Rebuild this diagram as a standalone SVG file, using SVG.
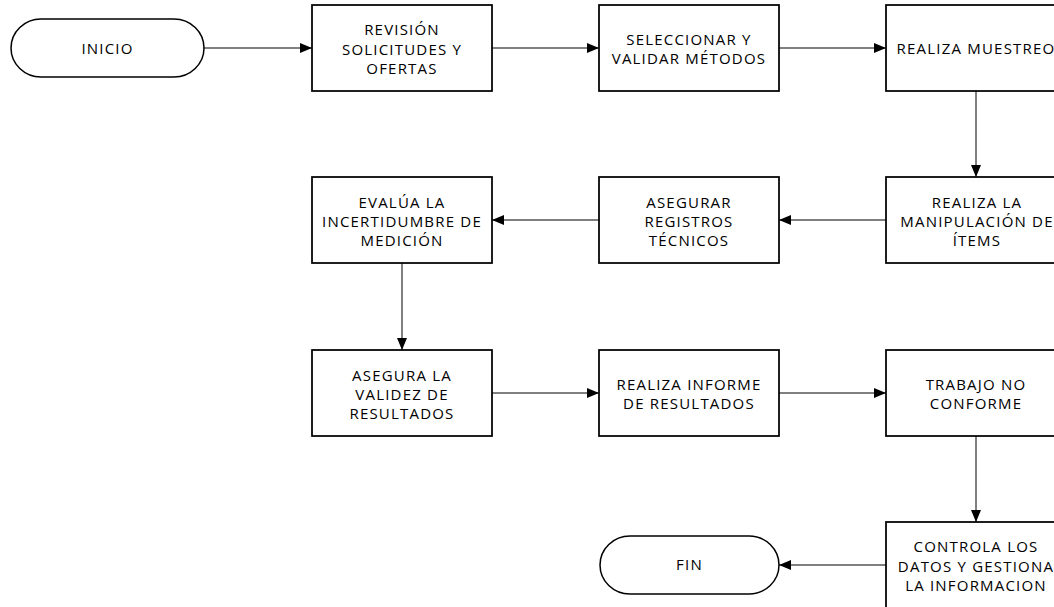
<svg xmlns="http://www.w3.org/2000/svg" width="1054" height="607" viewBox="0 0 1054 607">
  <defs>
    <marker id="arrow" markerUnits="userSpaceOnUse" markerWidth="12" markerHeight="10" refX="12" refY="5" orient="auto">
      <path d="M0,0 L12,5 L0,10 Z" fill="#000"/>
    </marker>
    <style>
      .box { fill: #fff; stroke: #000; stroke-width: 1.75; }
      .term { fill: #fff; stroke: #000; stroke-width: 1.5; }
      .lbl { font-family: "Open Sans", "Liberation Sans", sans-serif; font-size: 15px; fill: #000; text-anchor: middle; letter-spacing: 1.2px; }
      .conn { fill: none; stroke: #000; stroke-width: 1; marker-end: url(#arrow); }
    </style>
  </defs>
  <rect width="1054" height="607" fill="#fff"/>

  <!-- connectors -->
  <g id="connectors">
    <line class="conn" x1="204" y1="48" x2="312" y2="48"/>
    <line class="conn" x1="492" y1="48" x2="599" y2="48"/>
    <line class="conn" x1="779" y1="48" x2="886" y2="48"/>
    <line class="conn" x1="976" y1="91" x2="976" y2="177"/>
    <line class="conn" x1="886" y1="220" x2="779" y2="220"/>
    <line class="conn" x1="599" y1="220" x2="492" y2="220"/>
    <line class="conn" x1="402" y1="263" x2="402" y2="350"/>
    <line class="conn" x1="492" y1="393" x2="599" y2="393"/>
    <line class="conn" x1="779" y1="393" x2="886" y2="393"/>
    <line class="conn" x1="976" y1="436" x2="976" y2="522"/>
    <line class="conn" x1="886" y1="565" x2="779" y2="565"/>
  </g>

  <!-- start -->
  <g id="inicio">
    <rect class="term" x="11" y="19" width="193" height="58" rx="30" ry="29"/>
    <text class="lbl" x="107.5" y="54">INICIO</text>
  </g>

  <!-- row 1 -->
  <g id="revision">
    <rect class="box" x="312" y="5" width="180" height="86"/>
    <text class="lbl" x="402" y="35">REVISIÓN</text>
    <text class="lbl" x="402" y="54.5">SOLICITUDES Y</text>
    <text class="lbl" x="402" y="73.5">OFERTAS</text>
  </g>
  <g id="seleccionar">
    <rect class="box" x="599" y="5" width="180" height="86"/>
    <text class="lbl" x="689" y="45">SELECCIONAR Y</text>
    <text class="lbl" x="689" y="64">VALIDAR MÉTODOS</text>
  </g>
  <g id="muestreo">
    <rect class="box" x="886" y="5" width="180" height="86"/>
    <text class="lbl" x="976" y="53.5">REALIZA MUESTREO</text>
  </g>

  <!-- row 2 -->
  <g id="evalua">
    <rect class="box" x="312" y="177" width="180" height="86"/>
    <text class="lbl" x="402" y="207.5">EVALÚA LA</text>
    <text class="lbl" x="402" y="226.5">INCERTIDUMBRE DE</text>
    <text class="lbl" x="402" y="245.5">MEDICIÓN</text>
  </g>
  <g id="registros">
    <rect class="box" x="599" y="177" width="180" height="86"/>
    <text class="lbl" x="689" y="207.5">ASEGURAR</text>
    <text class="lbl" x="689" y="226.5">REGISTROS</text>
    <text class="lbl" x="689" y="245.5">TÉCNICOS</text>
  </g>
  <g id="manipulacion">
    <rect class="box" x="886" y="177" width="180" height="86"/>
    <text class="lbl" x="977" y="207.5">REALIZA LA</text>
    <text class="lbl" x="977" y="226.5">MANIPULACIÓN DE</text>
    <text class="lbl" x="977" y="245.5">ÍTEMS</text>
  </g>

  <!-- row 3 -->
  <g id="validez">
    <rect class="box" x="312" y="350" width="180" height="86"/>
    <text class="lbl" x="402" y="380.5">ASEGURA LA</text>
    <text class="lbl" x="402" y="399.5">VALIDEZ DE</text>
    <text class="lbl" x="402" y="418.5">RESULTADOS</text>
  </g>
  <g id="informe">
    <rect class="box" x="599" y="350" width="180" height="86"/>
    <text class="lbl" x="689" y="390">REALIZA INFORME</text>
    <text class="lbl" x="689" y="409">DE RESULTADOS</text>
  </g>
  <g id="no-conforme">
    <rect class="box" x="886" y="350" width="180" height="86"/>
    <text class="lbl" x="976" y="390">TRABAJO NO</text>
    <text class="lbl" x="976" y="409">CONFORME</text>
  </g>

  <!-- row 4 -->
  <g id="controla">
    <rect class="box" x="886" y="522" width="180" height="90"/>
    <text class="lbl" x="976" y="552">CONTROLA LOS</text>
    <text class="lbl" x="976" y="571.5">DATOS Y GESTIONA</text>
    <text class="lbl" x="976" y="591">LA INFORMACION</text>
  </g>
  <g id="fin">
    <rect class="term" x="600" y="536" width="179" height="58" rx="30" ry="29"/>
    <text class="lbl" x="689.5" y="570">FIN</text>
  </g>
</svg>
